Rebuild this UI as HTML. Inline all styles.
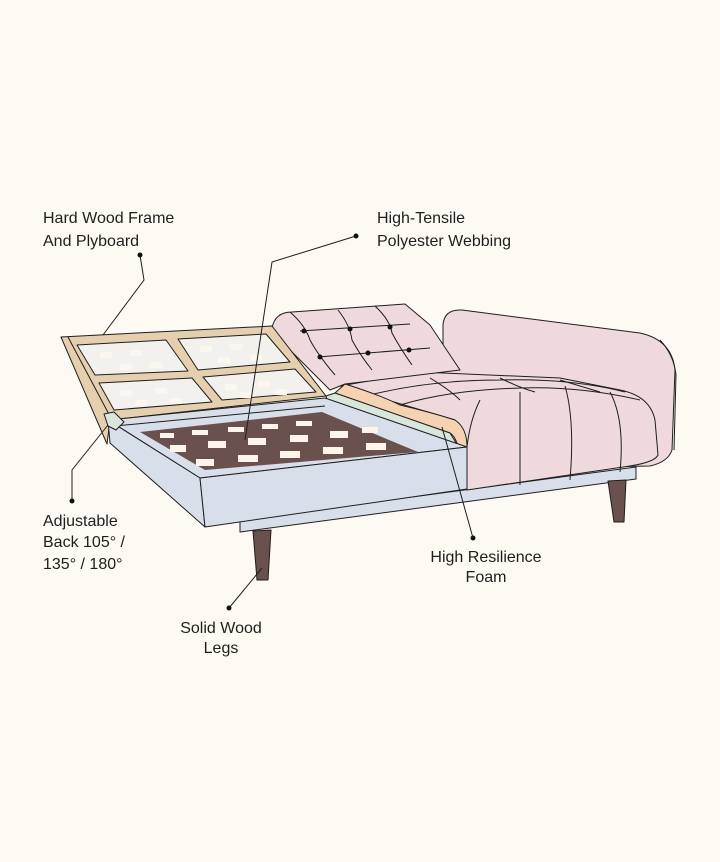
<!DOCTYPE html>
<html><head><meta charset="utf-8"><style>
html,body{margin:0;padding:0;background:#fdf9f3;}
svg{display:block}
text{font-family:"Liberation Sans",sans-serif;font-size:16px;fill:#1e1e1e;}
</style></head><body>
<svg width="720" height="862" viewBox="0 0 720 862" xmlns="http://www.w3.org/2000/svg">
<rect width="720" height="862" fill="#fdf9f3"/>
<g stroke="#1e1e1e" stroke-width="1" stroke-linejoin="round">
<polygon points="240,520 636,467 636,479 240,532" fill="#d8dfeb"/>
<polygon points="253,531 271,530 268,580 257,580" fill="#6b514d"/>
<polygon points="608,481 626,480 624,522 614,522" fill="#6b514d"/>
<path d="M443,470 L443,325 Q444,309 462,310 L640,333 Q672,340 675,370 L672,450 Q668,462 650,466 Z" fill="#efd9dd"/>
<path d="M660,340 Q674,355 676,375 L674,450" fill="none"/>
<path d="M340,386 L420,372 L560,378 L620,390 Q650,396 655,420 L658,455 Q655,462 630,466 L467,490 L467,447 L455,420 Z" fill="#efd9dd"/>
<g fill="none">
<path d="M400,405 Q450,390 520,388 Q580,386 640,400"/>
<path d="M370,395 Q430,380 500,380 Q570,378 625,392"/>
<path d="M520,392 Q520,420 520,485"/>
<path d="M480,400 Q470,420 467,447"/>
<path d="M565,386 Q575,420 570,480"/>
<path d="M610,392 Q625,420 620,472"/>
<path d="M430,378 Q450,390 460,400"/>
<path d="M500,378 Q520,388 535,392"/>
<path d="M560,380 Q580,386 600,392"/>
</g>
<path d="M272,328 Q275,312 292,312 L405,304 L430,325 L460,370 L345,384 L330,390 Q310,370 290,350 Z" fill="#efd9dd"/>
<g fill="none">
<path d="M290,312 Q305,325 310,340 Q318,355 335,375"/>
<path d="M338,310 Q350,325 352,340 Q360,355 372,370"/>
<path d="M375,306 Q390,320 392,333 Q400,348 412,365"/>
<path d="M300,331 L410,324"/>
<path d="M318,357 L430,348"/>
</g>
<g fill="#111" stroke="none">
<circle cx="304" cy="331" r="2.5"/><circle cx="350" cy="329" r="2.5"/><circle cx="390" cy="327" r="2.5"/>
<circle cx="320" cy="357" r="2.5"/><circle cx="368" cy="353" r="2.5"/><circle cx="409" cy="350" r="2.5"/>
</g>
<path d="M335,393 L345,384 Q380,395 400,405 Q430,412 455,420 Q467,428 467,447 L458,446 Q455,436 450,433 Z" fill="#f5d3b2"/>
<polygon points="326,396 335,393 450,433 458,446 330,410" fill="#d8e6dc"/>
<polygon points="61,337 272,326 326,396 110,420 107,444" fill="#e6cfae"/>
<line x1="68" y1="337" x2="112" y2="420"/>
<polygon points="77,345 166,340 188,371 95,375" fill="#f3f1ee"/>
<polygon points="178,339 266,334 290,362 198,370" fill="#f3f1ee"/>
<polygon points="99,383 192,378 212,402 114,410" fill="#f3f1ee"/>
<polygon points="203,377 295,369 316,392 222,400" fill="#f3f1ee"/>
</g>
<g fill="#fbf7ef">
<rect x="100" y="352" width="12" height="6"/><rect x="130" y="350" width="12" height="6"/><rect x="120" y="364" width="12" height="6"/><rect x="150" y="362" width="12" height="6"/>
<rect x="200" y="346" width="12" height="6"/><rect x="230" y="344" width="12" height="6"/><rect x="218" y="357" width="12" height="6"/><rect x="250" y="355" width="12" height="6"/>
<rect x="120" y="390" width="12" height="6"/><rect x="155" y="388" width="12" height="6"/><rect x="135" y="400" width="12" height="6"/><rect x="170" y="398" width="12" height="6"/>
<rect x="225" y="384" width="12" height="6"/><rect x="258" y="381" width="12" height="6"/><rect x="240" y="392" width="12" height="6"/><rect x="275" y="389" width="12" height="6"/>
</g>
<g stroke="#1e1e1e" stroke-width="1" stroke-linejoin="round">
<polygon points="108,420 325,398 467,447 200,478" fill="#d8dfeb"/>
<polygon points="108,420 200,478 205,527 110,443" fill="#d8dfeb"/>
<polygon points="200,478 467,447 467,489 205,527" fill="#d8dfeb"/>
<polygon points="140,432 322,412 418,452 205,470" fill="#6b514d" stroke="none"/>
<line x1="115" y1="426" x2="325" y2="406"/>
<polygon points="104,414 114,412 124,422 116,430 108,426" fill="#d8e6dc"/>
</g>
<g fill="#fdf4ea">
<rect x="160" y="433" width="14" height="5"/><rect x="192" y="430" width="16" height="5"/><rect x="228" y="427" width="16" height="5"/><rect x="262" y="424" width="16" height="5"/><rect x="296" y="421" width="16" height="5"/>
<rect x="170" y="445" width="16" height="7"/><rect x="208" y="441" width="18" height="7"/><rect x="248" y="438" width="18" height="7"/><rect x="290" y="435" width="18" height="7"/><rect x="330" y="431" width="18" height="7"/><rect x="362" y="427" width="16" height="6"/>
<rect x="196" y="459" width="18" height="7"/><rect x="238" y="455" width="20" height="7"/><rect x="280" y="451" width="20" height="7"/><rect x="323" y="447" width="20" height="7"/><rect x="366" y="443" width="20" height="7"/>
</g>
<g stroke="#1e1e1e" stroke-width="1" fill="none">
<polyline points="140,255 144,280 103,335"/>
<polyline points="356,236 272,262 245,440"/>
<polyline points="72,501 72,470 108,425"/>
<line x1="229" y1="608" x2="262" y2="568"/>
<line x1="473" y1="538" x2="442" y2="427"/>
</g>
<g fill="#111">
<circle cx="140" cy="255" r="2.5"/><circle cx="356" cy="236" r="2.5"/><circle cx="72" cy="501" r="2.5"/><circle cx="229" cy="608" r="2.5"/><circle cx="473" cy="538" r="2.5"/>
</g>
<text x="43" y="223">Hard Wood Frame</text>
<text x="43" y="246">And Plyboard</text>
<text x="377" y="223">High-Tensile</text>
<text x="377" y="246">Polyester Webbing</text>
<text x="43" y="526">Adjustable</text>
<text x="43" y="547">Back 105° /</text>
<text x="43" y="569">135° / 180°</text>
<text x="486" y="562" text-anchor="middle">High Resilience</text>
<text x="486" y="582" text-anchor="middle">Foam</text>
<text x="221" y="633" text-anchor="middle">Solid Wood</text>
<text x="221" y="653" text-anchor="middle">Legs</text>
</svg>
</body></html>
